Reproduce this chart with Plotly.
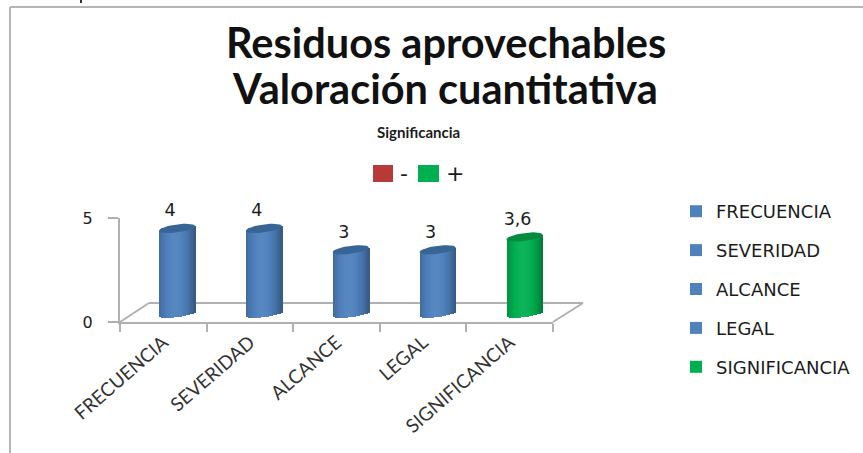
import math
import plotly.graph_objects as go

categories = ["FRECUENCIA", "SEVERIDAD", "ALCANCE", "LEGAL", "SIGNIFICANCIA"]
values = [4, 4, 3, 3, 3.6]
value_labels = ["4", "4", "3", "3", "3,6"]
swatch_colors = ["#4f81bd", "#4f81bd", "#4f81bd", "#4f81bd", "#00b050"]
cap_colors = ["#376596", "#376596", "#376596", "#376596", "#058a3e"]
y_ticks = [0, 5]
title_lines = ["Residuos aprovechables", "Valoración cuantitativa"]

W, H = 863, 453
FONT = "Lato"
WIDE = "DejaVu Sans"
TEXT = "#1c1c1c"
GRID = "#b0b0b0"

fx = lambda px: px / W
fy = lambda px: 1 - px / H

UNIT = 21.4
Y2_BASE = 314
Y2_TOP = 190
Y2_MAX = (Y2_BASE - Y2_TOP) / UNIT
BAR_W = 0.415
CAP_B = 4 / UNIT
BASE_B = 3 / UNIT
TILT = 2.3 / UNIT
LABEL_OFF = 16.5 / UNIT
LABEL_DX = -7 / 86.9
N = 18


def shade(hex_color, f):
    r, g, b = (int(hex_color[i:i + 2], 16) for i in (1, 3, 5))
    if f < 1:
        r, g, b = r * f, g * f, b * f
    else:
        r, g, b = r + (255 - r) * (f - 1), g + (255 - g) * (f - 1), b + (255 - b) * (f - 1)
    return f"rgb({int(r)},{int(g)},{int(b)})"


fig = go.Figure()

fig.add_trace(go.Scatter(x=categories, y=values, xaxis="x", yaxis="y", mode="markers",
                         marker=dict(opacity=0), showlegend=False, hoverinfo="skip"))

xs = list(range(len(categories)))

for i, (c, v) in enumerate(zip(categories, values)):
    fig.add_trace(go.Bar(x=[i], y=[v], width=BAR_W * 0.9, name=c, legendgroup=c,
                         marker=dict(color=swatch_colors[i], line=dict(width=0)),
                         xaxis="x2", yaxis="y2", hoverinfo="skip"))

for k in range(N):
    u = (k + 0.5) / N * 2 - 1
    f = 1.05 - 0.37 * abs((u + 0.12) / 1.12) ** 2.0
    colors = [shade(c, f) for c in swatch_colors]
    bases = [-BASE_B * math.sqrt(1 - u * u) + TILT * u for _ in values]
    tops = [v + TILT * u for v in values]
    fig.add_trace(go.Bar(x=xs, y=[t - b for t, b in zip(tops, bases)], base=bases,
                         width=BAR_W / N * 1.25, offset=BAR_W / 2 * u - BAR_W / N * 0.6,
                         marker=dict(color=colors, line=dict(width=0)),
                         showlegend=False, xaxis="x2", yaxis="y2", hoverinfo="skip"))

for i, v in enumerate(values):
    cx, cy = [], []
    for d in range(0, 361, 10):
        t = math.radians(d)
        cx.append(i + BAR_W / 2 * math.cos(t))
        cy.append(v + CAP_B * math.sin(t) + TILT * math.cos(t))
    fig.add_trace(go.Scatter(x=cx, y=cy, mode="lines", fill="toself", fillcolor=cap_colors[i],
                             line=dict(width=0, color=cap_colors[i]), showlegend=False,
                             xaxis="x2", yaxis="y2", hoverinfo="skip"))

fig.add_trace(go.Scatter(x=[x + LABEL_DX for x in xs], y=[v + LABEL_OFF for v in values],
                         mode="text", text=value_labels, textposition="middle center",
                         textfont=dict(family=WIDE, size=17.5, color=TEXT), showlegend=False,
                         xaxis="x2", yaxis="y2", hoverinfo="skip"))

line = dict(color=GRID, width=2)
shapes = [
    dict(type="line", xref="paper", yref="paper", x0=fx(10), x1=fx(10), y0=fy(7), y1=0,
         line=dict(color="#b4b4b4", width=2)),
    dict(type="line", xref="paper", yref="paper", x0=fx(10), x1=1, y0=fy(7), y1=fy(7),
         line=dict(color="#b4b4b4", width=2)),
    dict(type="line", xref="paper", yref="paper", x0=fx(81), x1=fx(81), y0=1, y1=fy(3),
         line=dict(color="#333333", width=2)),
    dict(type="line", xref="paper", yref="paper", x0=fx(120), x1=fx(149), y0=fy(322), y1=fy(303), line=line, layer="below"),
    dict(type="line", xref="paper", yref="paper", x0=fx(149), x1=fx(583), y0=fy(303), y1=fy(303), line=line, layer="below"),
    dict(type="line", xref="paper", yref="paper", x0=fx(553), x1=fx(583), y0=fy(322), y1=fy(303), line=line, layer="below"),
    dict(type="rect", xref="paper", yref="paper", x0=fx(373), x1=fx(393), y0=fy(165), y1=fy(182),
         fillcolor="#b83a38", line=dict(width=0)),
    dict(type="rect", xref="paper", yref="paper", x0=fx(418), x1=fx(439), y0=fy(165), y1=fy(182),
         fillcolor="#00b050", line=dict(width=0)),
]

annotations = [
    dict(text="<b>" + title_lines[0] + "</b>", xref="paper", yref="paper", x=fx(446), y=fy(42), showarrow=False,
         xanchor="center", yanchor="middle", font=dict(family=FONT, size=41.5, color="#111111")),
    dict(text="<b>" + title_lines[1] + "</b>", xref="paper", yref="paper", x=fx(445), y=fy(88), showarrow=False,
         xanchor="center", yanchor="middle", font=dict(family=FONT, size=41.5, color="#111111")),
    dict(text="<b>Significancia</b>", xref="paper", yref="paper", x=fx(418), y=fy(132), showarrow=False,
         xanchor="center", yanchor="middle", font=dict(family=FONT, size=15, color=TEXT)),
    dict(text="-", xref="paper", yref="paper", x=fx(404), y=fy(174), showarrow=False,
         xanchor="center", yanchor="middle", font=dict(family=WIDE, size=22, color=TEXT)),
    dict(text="+", xref="paper", yref="paper", x=fx(455), y=fy(174), showarrow=False,
         xanchor="center", yanchor="middle", font=dict(family=WIDE, size=22, color=TEXT)),
]

fig.update_layout(
    width=W, height=H, margin=dict(l=0, r=0, t=0, b=0, autoexpand=False),
    paper_bgcolor="white", plot_bgcolor="rgba(0,0,0,0)",
    barmode="overlay", bargap=0,
    xaxis=dict(domain=[fx(120), fx(553)], anchor="y", type="category", categoryorder="array",
               categoryarray=categories, range=[-0.5, 4.5], tickson="boundaries",
               ticks="outside", ticklen=8, tickcolor=GRID, tickwidth=2,
               showline=True, linecolor=GRID, linewidth=2, showgrid=False, tickangle=-41,
               tickfont=dict(family=FONT, size=19, color="#333333")),
    yaxis=dict(domain=[fy(322), fy(218)], anchor="x", range=[0, 5], tickvals=y_ticks,
               ticks="outside", ticklen=10, tickcolor=GRID, tickwidth=2, showline=True,
               linecolor=GRID, linewidth=2, showgrid=False, zeroline=False, ticklabelstandoff=12,
               tickfont=dict(family=WIDE, size=16, color=TEXT)),
    xaxis2=dict(domain=[fx(133.5), fx(568)], anchor="y2", range=[-0.5, 4.5], visible=False),
    yaxis2=dict(domain=[fy(Y2_BASE + 21.4), fy(Y2_TOP)], anchor="x2", range=[-1, Y2_MAX], visible=False),
    legend=dict(x=fx(676), y=fy(193), xanchor="left", yanchor="top", traceorder="grouped",
                tracegroupgap=12.5, bgcolor="rgba(0,0,0,0)", itemclick=False,
                font=dict(family=WIDE, size=18, color=TEXT)),
    shapes=shapes, annotations=annotations,
)

fig.write_html("out.html", config={"displayModeBar": False},
               post_script="document.body.style.margin='0';document.body.style.overflow='hidden';")
